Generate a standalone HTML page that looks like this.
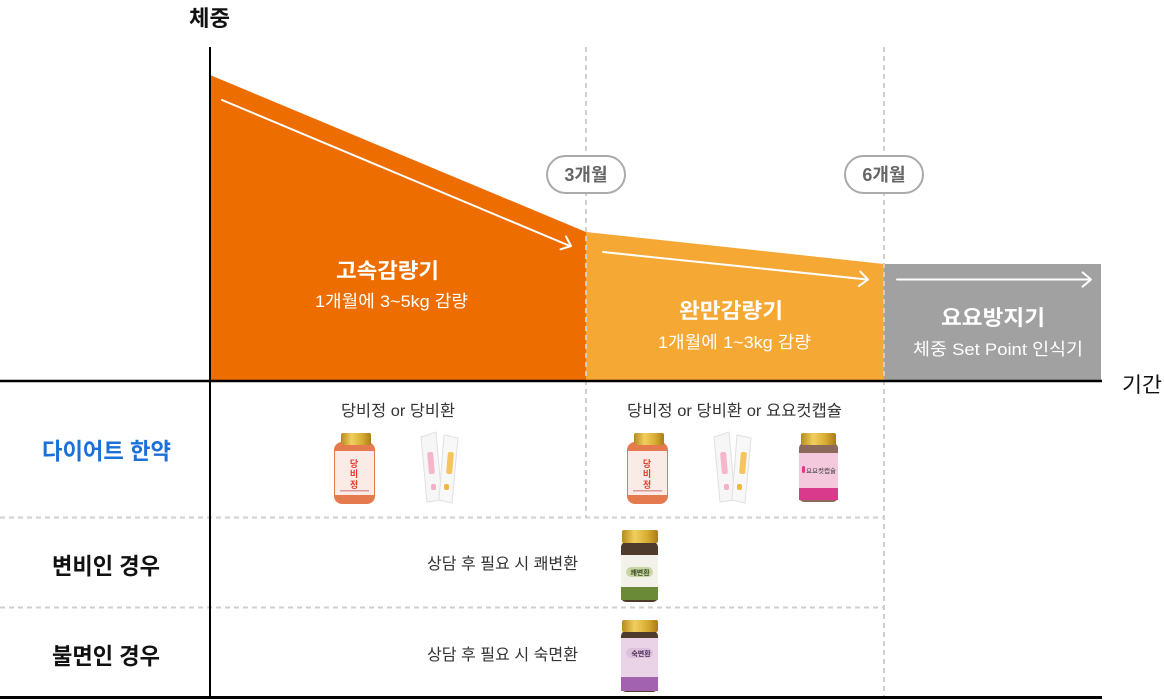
<!DOCTYPE html>
<html><head><meta charset="utf-8">
<style>
html,body{margin:0;padding:0;background:#fff;}
svg{display:block;}
text{font-family:"Liberation Sans","Noto Sans CJK KR",sans-serif;}
</style></head>
<body>
<svg width="1164" height="700" viewBox="0 0 1164 700" xmlns="http://www.w3.org/2000/svg">
<defs>
<linearGradient id="gold" x1="0" x2="1" y1="0" y2="0">
<stop offset="0" stop-color="#b88a1e"/><stop offset="0.35" stop-color="#f0cf5e"/><stop offset="0.7" stop-color="#d9ac33"/><stop offset="1" stop-color="#a97d18"/>
</linearGradient>
</defs>

<!-- area fills -->
<polygon points="210,75 586,232 586,381 210,381" fill="#ED6D00"/>
<polygon points="586,232 884,264 884,381 586,381" fill="#F6A835"/>
<rect x="884" y="264" width="217" height="117" fill="#A1A1A1"/>

<!-- dashed verticals -->
<line x1="586" y1="47" x2="586" y2="517" stroke="#cfcfcf" stroke-width="2" stroke-dasharray="5,4"/>
<line x1="884" y1="47" x2="884" y2="697" stroke="#cfcfcf" stroke-width="2" stroke-dasharray="5,4"/>
<!-- dashed horizontals -->
<line x1="0" y1="517.5" x2="884" y2="517.5" stroke="#cfcfcf" stroke-width="2" stroke-dasharray="5,4"/>
<line x1="0" y1="607.5" x2="884" y2="607.5" stroke="#cfcfcf" stroke-width="2" stroke-dasharray="5,4"/>

<!-- axes -->
<line x1="210" y1="47" x2="210" y2="698" stroke="#000" stroke-width="2"/>
<line x1="0" y1="381" x2="1102" y2="381" stroke="#000" stroke-width="2.6"/>
<line x1="0" y1="697.5" x2="1102" y2="697.5" stroke="#000" stroke-width="3"/>

<!-- arrows -->
<g stroke="#fff" stroke-width="2" fill="none" stroke-linecap="round" stroke-linejoin="round">
<line x1="222" y1="100" x2="570" y2="246"/>
<polyline points="566,236.5 571,246 560.5,249.3"/>
<line x1="603" y1="252" x2="867" y2="279.5"/>
<polyline points="860.3,271.6 868,279.5 858.9,286"/>
<line x1="897" y1="279.5" x2="1090" y2="279.5"/>
<polyline points="1082.6,272.4 1091,279.5 1082.6,286.6"/>
</g>

<!-- badges -->
<rect x="547" y="156" width="78" height="37" rx="18.5" fill="#fff" stroke="#aaaaaa" stroke-width="2"/>
<text x="586" y="181" text-anchor="middle" font-size="18" font-weight="bold" fill="#666">3개월</text>
<rect x="845" y="156" width="78" height="37" rx="18.5" fill="#fff" stroke="#aaaaaa" stroke-width="2"/>
<text x="884" y="181" text-anchor="middle" font-size="18" font-weight="bold" fill="#666">6개월</text>

<!-- axis labels -->
<text x="189" y="26" font-size="22" font-weight="bold" fill="#111" textLength="41" lengthAdjust="spacingAndGlyphs">체중</text>
<text x="1122" y="392" font-size="21" fill="#111" textLength="40" lengthAdjust="spacingAndGlyphs">기간</text>

<!-- phase labels -->
<text x="336" y="278" font-size="21" font-weight="bold" fill="#fff" textLength="103" lengthAdjust="spacingAndGlyphs">고속감량기</text>
<text x="315" y="307" font-size="17" fill="#fff" textLength="153" lengthAdjust="spacingAndGlyphs">1개월에 3~5kg 감량</text>
<text x="679" y="318" font-size="21" font-weight="bold" fill="#fff" textLength="104" lengthAdjust="spacingAndGlyphs">완만감량기</text>
<text x="658" y="348" font-size="17" fill="#fff" textLength="153" lengthAdjust="spacingAndGlyphs">1개월에 1~3kg 감량</text>
<text x="941" y="325" font-size="21" font-weight="bold" fill="#fff" textLength="104" lengthAdjust="spacingAndGlyphs">요요방지기</text>
<text x="913" y="355" font-size="17" fill="#fff" textLength="170" lengthAdjust="spacingAndGlyphs">체중 Set Point 인식기</text>

<!-- row labels -->
<text x="42" y="459" font-size="23" font-weight="bold" fill="#1C70D8" textLength="129" lengthAdjust="spacingAndGlyphs">다이어트 한약</text>
<text x="52" y="574" font-size="23" font-weight="bold" fill="#111" textLength="108" lengthAdjust="spacingAndGlyphs">변비인 경우</text>
<text x="52" y="664" font-size="23" font-weight="bold" fill="#111" textLength="108" lengthAdjust="spacingAndGlyphs">불면인 경우</text>

<!-- row texts -->
<text x="341" y="416" font-size="16" fill="#333" textLength="114" lengthAdjust="spacingAndGlyphs">당비정 or 당비환</text>
<text x="627" y="416" font-size="16" fill="#333" textLength="215" lengthAdjust="spacingAndGlyphs">당비정 or 당비환 or 요요컷캡슐</text>
<text x="427" y="569" font-size="16" fill="#333" textLength="151" lengthAdjust="spacingAndGlyphs">상담 후 필요 시 쾌변환</text>
<text x="427" y="660" font-size="16" fill="#333" textLength="151" lengthAdjust="spacingAndGlyphs">상담 후 필요 시 숙면환</text>

<!-- 당비정 bottle -->
<g id="bottle">
<rect x="334" y="442" width="41" height="62" rx="8" fill="#e57a4e"/>
<rect x="335" y="451" width="39" height="44" fill="#fbebe6"/>
<rect x="341" y="433" width="30" height="12" rx="2" fill="url(#gold)"/>
<text x="354" y="467" font-size="9" font-weight="bold" fill="#e2402f" text-anchor="middle">당</text>
<text x="354" y="477" font-size="9" font-weight="bold" fill="#e2402f" text-anchor="middle">비</text>
<text x="354" y="488" font-size="9" font-weight="bold" fill="#e2402f" text-anchor="middle">정</text>
<rect x="340" y="490" width="29" height="1.5" fill="#d99"/>
</g>
<!-- sachets -->
<g id="sachet">
<polygon points="421,437 436,432 442,500 427,502" fill="#f6f6f6" stroke="#e0e0e0" stroke-width="1"/>
<polygon points="444,435 458,438 452,503 439,500" fill="#f8f8f8" stroke="#e0e0e0" stroke-width="1"/>
<rect x="428" y="452" width="6" height="22" rx="2" fill="#f4b6c8" transform="rotate(-5 431 463)"/>
<rect x="447" y="452" width="6" height="22" rx="2" fill="#f5c45a" transform="rotate(5 450 463)"/>
<rect x="431" y="484" width="5" height="6" rx="2" fill="#f3b0c4"/>
<rect x="444" y="484" width="5" height="6" rx="2" fill="#f0b840"/>
</g>
<use href="#bottle" transform="translate(293,0)"/>
<use href="#sachet" transform="translate(293,0)"/>

<!-- 요요컷캡슐 jar -->
<rect x="799" y="443" width="39" height="59" rx="5" fill="#8b6a5b"/>
<rect x="799" y="453" width="39" height="35" fill="#f5c9dd"/>
<rect x="799" y="488" width="39" height="12" fill="#d93a8c"/>
<rect x="801" y="433" width="35" height="12" rx="2" fill="url(#gold)"/>
<rect x="802" y="466" width="3" height="7" rx="1.5" fill="#d93a8c"/>
<text x="821" y="473" font-size="6.5" fill="#333" text-anchor="middle">요요컷캡슐</text>

<!-- 쾌변환 jar -->
<rect x="621" y="542" width="37" height="60" rx="5" fill="#4f3b2c"/>
<rect x="621" y="555" width="37" height="32" fill="#f2f2ea"/>
<rect x="621" y="587" width="37" height="13" fill="#6a8a38"/>
<rect x="622" y="530" width="36" height="13" rx="2" fill="url(#gold)"/>
<rect x="626" y="567" width="27" height="10" rx="5" fill="#c7d6a2"/>
<text x="640" y="575" font-size="7" font-weight="bold" fill="#3a4a20" text-anchor="middle">쾌변환</text>

<!-- 숙면환 jar -->
<rect x="621" y="631" width="37" height="61" rx="5" fill="#4f3b2c"/>
<rect x="621" y="638" width="37" height="39" fill="#ead3e6"/>
<rect x="621" y="677" width="37" height="14" fill="#a362b0"/>
<rect x="622" y="620" width="36" height="12" rx="2" fill="url(#gold)"/>
<rect x="626" y="648" width="27" height="10" rx="5" fill="#dcc0dc"/>
<text x="641" y="656" font-size="7" font-weight="bold" fill="#4a2a50" text-anchor="middle">숙면환</text>
</svg>
</body></html>
